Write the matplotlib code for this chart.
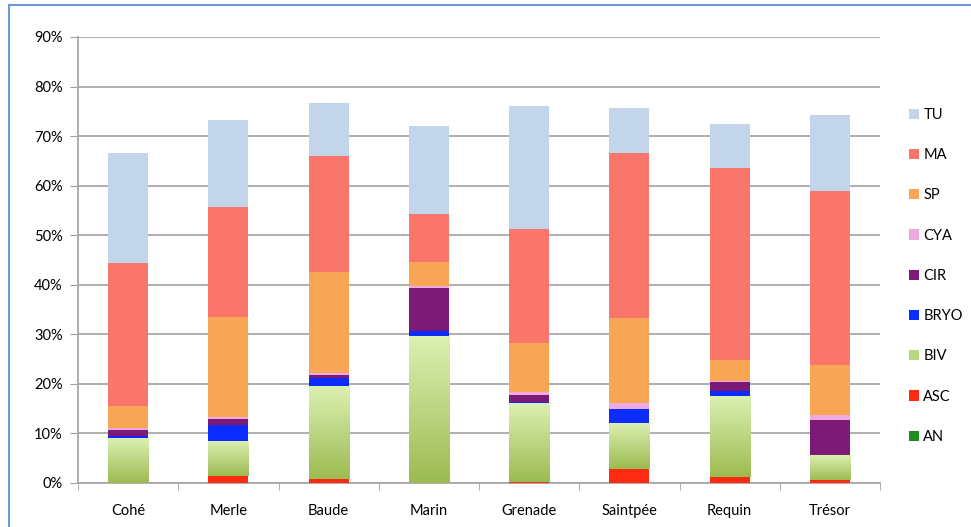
import numpy as np
import matplotlib
matplotlib.use('Agg')
import matplotlib.pyplot as plt
from matplotlib.colors import LinearSegmentedColormap
from matplotlib.patches import Rectangle

# Sites and stacked group percentages
sites = ['Cohé', 'Merle', 'Baude', 'Marin', 'Grenade', 'Saintpée', 'Requin', 'Trésor']
AN   = [0.0, 0.0, 0.0, 0.0, 0.0, 0.0, 0.0, 0.0]
ASC  = [0.0, 1.5, 0.9, 0.1, 0.3, 2.8, 1.2, 0.7]
BIV  = [9.0, 7.0, 18.7, 29.6, 15.8, 9.4, 16.4, 4.9]
BRYO = [0.5, 3.2, 1.5, 0.9, 0.3, 2.7, 0.9, 0.0]
CIR  = [1.1, 1.2, 0.6, 8.7, 1.3, 0.0, 1.9, 7.2]
CYA  = [0.5, 0.5, 0.5, 0.5, 0.7, 1.2, 0.2, 0.9]
SP   = [4.5, 20.1, 20.4, 4.8, 9.8, 17.2, 4.3, 10.1]
MA   = [28.8, 22.2, 23.4, 9.6, 23.1, 33.2, 38.7, 35.1]
TU   = [22.1, 17.5, 10.6, 17.8, 24.7, 9.1, 8.8, 15.3]

groups = ['AN', 'ASC', 'BIV', 'BRYO', 'CIR', 'CYA', 'SP', 'MA', 'TU']
values = [AN, ASC, BIV, BRYO, CIR, CYA, SP, MA, TU]
colors = ['#1e8c1e', '#ff2a12', '#b8d67e', '#0a2cff', '#7d1a78', '#eeaade',
          '#f9a556', '#fb766a', '#c3d5ea']

fig = plt.figure(figsize=(9.71, 5.27), dpi=100)
plt.rcParams['font.family'] = ['Lato', 'DejaVu Sans']
ax = fig.add_axes([78 / 971, 44 / 527, 802 / 971, 446 / 527])

x = np.arange(len(sites))
width = 0.4
bottom = np.zeros(len(sites))
biv_cmap = LinearSegmentedColormap.from_list('biv', ['#9cbb52', '#dcf0b2'])

for name, vals, col in zip(groups, values, colors):
    vals = np.array(vals) / 100.0
    bars = ax.bar(x, vals, width, bottom=bottom, color=col, label=name,
                  edgecolor='none', zorder=3)
    if name == 'BIV':
        # light-to-dark green fill, as in the original
        grad = np.linspace(0, 1, 256).reshape(-1, 1)
        for b in bars:
            if b.get_height() <= 0:
                continue
            im = ax.imshow(grad, cmap=biv_cmap, origin='lower', aspect='auto',
                           extent=[b.get_x(), b.get_x() + b.get_width(),
                                   b.get_y(), b.get_y() + b.get_height()],
                           zorder=3.5)
            im.set_clip_path(b)
    bottom += vals

ax.set_xlim(-0.5, len(sites) - 0.5)
ax.set_ylim(0, 0.9)
ax.set_yticks(np.arange(0, 0.91, 0.1))
ax.set_yticklabels(['%d%%' % v for v in range(0, 91, 10)], fontsize=10.5)
ax.set_xticks(x)
ax.set_xticklabels(sites, fontsize=10.5)
ax.set_xticks(np.arange(-0.5, len(sites), 1), minor=True)
ax.tick_params(axis='x', which='major', length=0, pad=15)
ax.tick_params(axis='x', which='minor', length=5, color='#a0a0a0', direction='out')
ax.tick_params(axis='y', length=6, color='#a0a0a0', pad=5)
ax.grid(axis='y', color='#a8a8a8', linewidth=1.3, zorder=0)
for s in ['top', 'right']:
    ax.spines[s].set_visible(False)
for s in ['left', 'bottom']:
    ax.spines[s].set_color('#a8a8a8')
    ax.spines[s].set_linewidth(1.3)

handles, labels = ax.get_legend_handles_labels()
leg = fig.legend(handles[::-1], labels[::-1], loc='upper left',
                 bbox_to_anchor=(903 / 971, 1 - 102 / 527), frameon=False,
                 fontsize=10.5, handlelength=0.7, handleheight=0.7,
                 handletextpad=0.3, labelspacing=1.8, borderaxespad=0)

# outer frame
fig.patches.append(Rectangle((9 / 971, -0.05), 1.1, 1 - 5 / 527 + 0.05,
                             transform=fig.transFigure, fill=False,
                             edgecolor='#6a9bd3', linewidth=1.5))

fig.savefig('out.png', dpi=100)
